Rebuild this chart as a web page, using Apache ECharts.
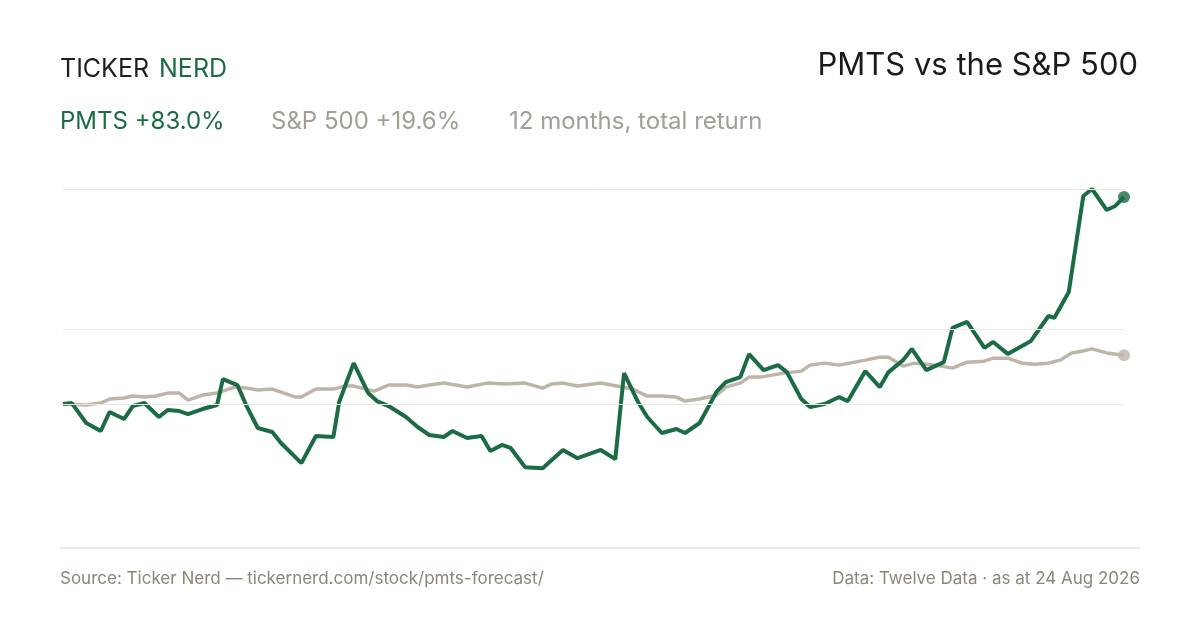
<!DOCTYPE html>
<html>
<head>
<meta charset="utf-8">
<script src="https://cdn.jsdelivr.net/npm/echarts@6/dist/echarts.min.js"></script>
<style>html,body{margin:0;background:#fff}#c{width:1200px;height:630px}</style>
</head>
<body>
<div id="c"></div>
<script>
// day index, total return %
const pmtsDays = [0,3,8,13,16,21,24,28,33,36,40,43,48,53,55,60,63,67,72,75,82,87,93,95,100,105,108,112,118,122,126,131,134,139,144,147,151,154,159,165,172,177,185,190,193,198,201,206,211,214,219,225,228,233,236,241,246,249,254,257,262,267,270,276,281,284,289,292,297,303,306,311,317,320,325,333,339,341,346,351,354,359,362,365]
const pmtsVals = [0,0.4,-7.6,-10.8,-3.2,-6.0,-0.8,0.4,-5.2,-2.4,-2.8,-4.0,-2.0,-0.4,10.0,7.6,-0.4,-9.6,-11.2,-15.6,-23.7,-12.8,-13.2,0.8,16.4,4.4,1.2,-0.8,-5.2,-9.2,-12.4,-13.2,-10.8,-13.6,-12.8,-18.8,-16.4,-17.6,-25.3,-25.7,-18.4,-21.7,-18.4,-22.1,12.4,0.4,-5.2,-11.6,-10.0,-11.6,-7.6,5.2,8.8,10.8,20.0,13.6,15.6,12.8,2.0,-1.2,0,2.8,1.2,13.2,6.8,12.8,17.6,22.1,13.6,16.8,30.5,32.9,22.5,24.9,20.1,25.3,35.3,34.5,44.9,83.4,86.2,77.8,79.4,83.0]
const spxDays = [0,8,13,16,21,24,28,32,36,40,43,48,53,59,63,67,72,80,82,87,93,97,100,107,112,118,122,126,131,139,146,152,159,165,168,172,177,185,196,201,206,211,214,219,225,228,233,236,240,248,254,257,262,267,276,281,284,289,293,300,306,311,317,320,325,330,334,339,343,347,351,354,359,365]
const spxVals = [0,-0.4,0.4,2.0,2.4,3.2,2.8,3.2,4.4,4.4,1.6,3.6,4.4,6.8,6.4,5.6,6.0,2.8,2.8,6.0,6.0,7.2,7.2,5.2,7.6,7.6,6.8,7.6,8.4,6.8,8.4,8.0,8.4,6.4,8.0,8.4,7.2,8.4,6.0,3.2,3.2,2.8,1.2,2.0,3.6,6.8,8.4,10.8,10.8,12.4,13.2,15.6,16.4,15.6,17.6,18.8,18.8,15.2,16.4,15.6,14.4,16.8,17.2,18.4,18.4,16.4,16.0,16.4,17.6,20.5,21.3,22.1,20.5,19.6]
const gridValues = [0, 30, 86.2]

const green = "#1b6b45"
const grey = "#bdb5a8"
const muted = "#8c8678"

const pair = (d, v) => d.map((x, i) => [x, v[i]])
const last = (d, v) => [[d[d.length - 1], v[v.length - 1]]]

let chart = echarts.init(document.getElementById("c"))
chart.setOption({
  animation: false,
  grid: { left: 63, right: 76, top: 189, bottom: 82 },
  xAxis: { type: "value", min: 0, max: 365, show: false },
  yAxis: { type: "value", min: -57.7, max: 86.2, show: false, splitLine: { show: false } },
  graphic: [
    { type: "text", left: 60, top: 57, style: { text: "{a|TICKER}{b|NERD}", rich: {
      a: { fontFamily: "Inter", fontSize: 25, fill: "#1f1f1f", letterSpacing: 2.5, padding: [0, 10, 0, 0] },
      b: { fontFamily: "Inter", fontSize: 25, fill: green, letterSpacing: 2.5 } } } },
    { type: "text", right: 62, top: 50, style: { text: "PMTS vs the S&P 500", fontFamily: "Inter", fontSize: 31, fill: "#1a1a1a" } },
    { type: "text", left: 60, top: 110, style: { text: "PMTS +83.0%", fontFamily: "Inter", fontSize: 24, fill: green } },
    { type: "text", left: 271, top: 110, style: { text: "S&P 500 +19.6%", fontFamily: "Inter", fontSize: 24, fill: "#a39d92" } },
    { type: "text", left: 509, top: 110, style: { text: "12 months, total return", fontFamily: "Inter", fontSize: 24, fill: "#a39d92" } },
    { type: "line", shape: { x1: 60, y1: 548, x2: 1140, y2: 548 }, style: { stroke: "#d8d4cc", lineWidth: 1 } },
    { type: "text", left: 60, top: 570, style: { text: "Source: Ticker Nerd — tickernerd.com/stock/pmts-forecast/", fontFamily: "Inter", fontSize: 17, fill: muted } },
    { type: "text", right: 60, top: 570, style: { text: "Data: Twelve Data · as at 24 Aug 2026", fontFamily: "Inter", fontSize: 17, fill: muted } }
  ],
  series: [
    {
      type: "line", data: pair(spxDays, spxVals), symbol: "none", z: 2,
      lineStyle: { color: grey, width: 3.5 },
      markLine: { silent: true, symbol: "none", label: { show: false },
        lineStyle: { color: "#ebe8e3", width: 1, type: "solid" },
        data: gridValues.map(v => ({ yAxis: v })) }
    },
    { type: "scatter", data: last(spxDays, spxVals), symbolSize: 12, itemStyle: { color: grey }, z: 3 },
    { type: "line", data: pair(pmtsDays, pmtsVals), symbol: "none", z: 4, lineStyle: { color: green, width: 4 } },
    { type: "scatter", data: last(pmtsDays, pmtsVals), symbolSize: 12, itemStyle: { color: green }, z: 5 }
  ]
})
</script>
</body>
</html>
